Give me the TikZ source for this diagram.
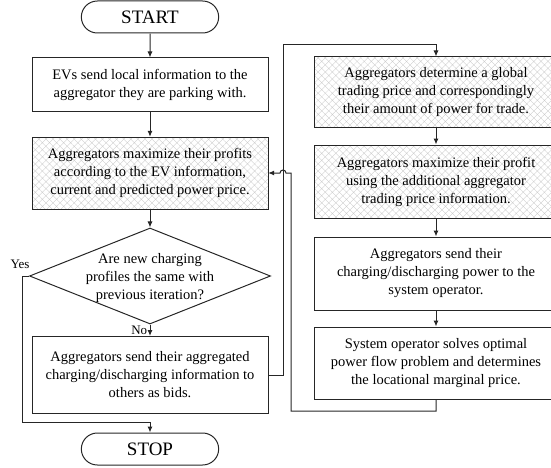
\documentclass[tikz,border=0pt]{standalone}
\usepackage{fontspec}
\setmainfont{Liberation Serif}
\usetikzlibrary{shapes.geometric, shapes.misc, arrows.meta, patterns.meta}

\begin{document}
\begin{tikzpicture}[
    x=1pt, y=-1pt,
    box/.style={draw=black!85, line width=1pt, align=center, inner sep=0pt, font=\fontsize{14.5}{18}\selectfont},
    hatched/.style={box, pattern={Hatch[angle=45, distance=5pt, line width=0.35pt]}, pattern color=gray!40},
    terminal/.style={draw=black!85, line width=1pt, rounded rectangle, minimum width=144pt, minimum height=32pt, font=\fontsize{19}{22}\selectfont},
    decision/.style={draw=black!85, line width=1pt, diamond, minimum width=241pt, minimum height=96pt, inner sep=0pt},
    flow/.style={draw=black!85, line width=1pt, -{Latex[length=6pt, width=5pt]}},
    tag/.style={font=\fontsize{13}{15}\selectfont}
]

\useasboundingbox (0,0) rectangle (551,468);
\clip (0,0) rectangle (551,468);

% Left column
\node[terminal] (start) at (150,17) {START};
\node[box, minimum width=236pt, minimum height=54pt] (evs) at (150,85)
    {EVs send local information to the\\aggregator they are parking with.};
\node[hatched, minimum width=236pt, minimum height=72pt] (maxp) at (150,173)
    {Aggregators maximize their profits\\according to the EV information,\\current and predicted power price.};
\node[decision] (same) at (150,276) {};
\node[box, draw=none, pattern=none] (sameq) at (150,278)
    {Are new charging\\profiles the same with\\previous iteration?};
\node[box, minimum width=236pt, minimum height=77pt] (bids) at (150,375)
    {Aggregators send their aggregated\\charging/discharging information to\\others as bids.};
\node[terminal] (stop) at (150,449) {STOP};

% Right column
\node[hatched, minimum width=243pt, minimum height=71pt] (glob) at (436,92.5)
    {Aggregators determine a global\\trading price and correspondingly\\their amount of power for trade.};
\node[hatched, minimum width=243pt, minimum height=73pt] (maxq) at (436,181.5)
    {Aggregators maximize their profit\\using the additional aggregator\\trading price information.};
\node[box, minimum width=243pt, minimum height=73pt] (tso) at (436,273.5)
    {Aggregators send their\\charging/discharging power to the\\system operator.};
\node[box, minimum width=243pt, minimum height=72pt] (opf) at (436,363)
    {System operator solves optimal\\power flow problem and determines\\the locational marginal price.};

% Main flow
\draw[flow] (start) -- (evs);
\draw[flow] (evs) -- (maxp);
\draw[flow] (maxp) -- (same);
\draw[flow] (same) -- node[tag, left, pos=0.5, xshift=1pt] (no) {No} (bids);

% Converged branch
\coordinate (yesa) at (22,276);
\coordinate (yesb) at (22,422);
\node[tag, anchor=south] (yes) at (20,272) {Yes};
\draw[flow] (same.west) -- (yesa) -- (yesb) -| (stop.north);

% Bids to the trading loop
\coordinate (upa) at (283,0 |- bids.east);
\coordinate (upb) at (283,45);
\draw[flow] (bids.east) -- (upa) -- (upb) -| (glob.north);

% Right chain
\draw[flow] (glob) -- (maxq);
\draw[flow] (maxq) -- (tso);
\draw[flow] (tso) -- (opf);

% Back to the aggregators, hopping over the line
\coordinate (backa) at (436,411);
\coordinate (backb) at (291,411);
\coordinate (backc) at (291,173);
\draw[flow] (opf.south) -- (backa) -- (backb) -- (backc) -- (286,173)
    arc[start angle=0, end angle=-180, radius=3] -- (maxp.east);

\end{tikzpicture}
\end{document}
